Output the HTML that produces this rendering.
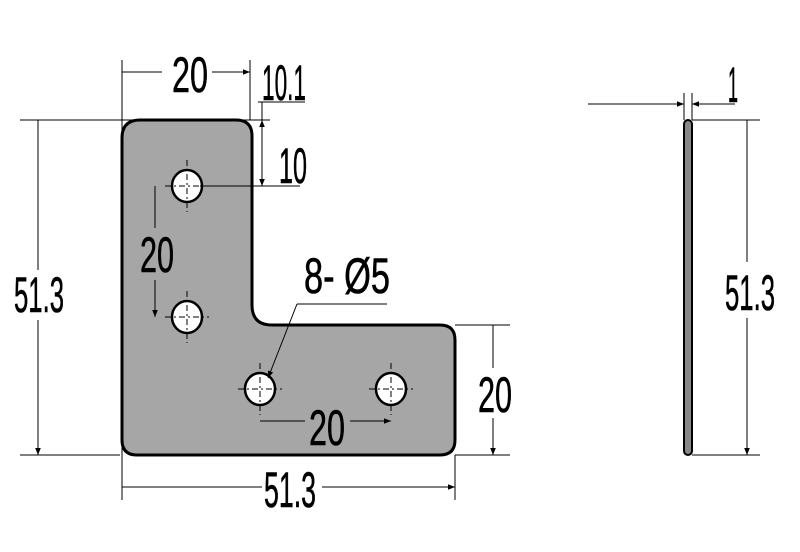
<!DOCTYPE html>
<html><head><style>body{margin:0;background:#fff}svg{display:block}</style></head><body>
<svg width="800" height="552" viewBox="0 0 800 552" xmlns="http://www.w3.org/2000/svg" font-family="Liberation Sans, sans-serif">
<defs>
<marker id="a" viewBox="0 0 10 10" refX="10" refY="5" markerWidth="16" markerHeight="7" markerUnits="userSpaceOnUse" orient="auto-start-reverse"><path d="M0,1 L10,5 L0,9z" fill="#000"/></marker>
</defs>
<path d="M140,120 H236 Q252,120 252,136 V305 Q252,325 272,325 H440 Q455,325 455,340 V440 Q455,455 440,455 H137 Q122,455 122,440 V138 Q122,120 140,120 Z" fill="#a6a6a6" stroke="#000" stroke-width="3"/>
<g fill="#fff" stroke="#000" stroke-width="2.5">
<ellipse cx="187" cy="186" rx="15" ry="16"/><ellipse cx="187" cy="317" rx="15" ry="16"/>
<ellipse cx="260" cy="389" rx="15" ry="16"/><ellipse cx="391" cy="389" rx="15" ry="16"/>
</g>
<g stroke="#000" stroke-width="1" stroke-dasharray="6,3,2,3">
<path d="M165,186H209M187,160V212M165,317H209M187,291V343M238,389H282M260,363V415M369,389H413M391,363V415"/>
</g>
<g stroke="#000" stroke-width="1" fill="none">
<path d="M20,120H270M20,455H120M122,60V500M250,60V120M455,325H510M455,455H510M455,455V500M200,186H300"/>
<path d="M162,72H122M212,72H250" marker-end="url(#a)"/>
<path d="M38,270V120M38,320V455" marker-end="url(#a)"/>
<line x1="262" y1="153" x2="262" y2="120" marker-end="url(#a)"/>
<line x1="262" y1="153" x2="262" y2="186" marker-end="url(#a)"/>
<path d="M262,102V120M258,102H305"/>
<path d="M155,228V186M155,280V317" marker-end="url(#a)"/>
<path d="M493,368V325M493,418V455" marker-end="url(#a)"/>
<path d="M305,421H260M350,421H391" marker-end="url(#a)"/>
<path d="M262,487H122M322,487H455" marker-end="url(#a)"/>
<path d="M297,304H387"/>
<line x1="297" y1="304" x2="268" y2="378" marker-end="url(#a)"/>
<path d="M684,93V120M692,93V120M692,120H760M692,455H760"/>
<line x1="588" y1="104" x2="684" y2="104" marker-end="url(#a)"/>
<line x1="735" y1="104" x2="692" y2="104" marker-end="url(#a)"/>
<path d="M747,262V120M747,318V455" marker-end="url(#a)"/>
</g>
<rect x="684" y="120" width="8" height="335" rx="4" fill="#888" stroke="#000" stroke-width="2"/>
<g font-size="50" fill="#000" stroke="#000" stroke-width="0.6">
<text x="172" y="92" textLength="36" lengthAdjust="spacingAndGlyphs">20</text>
<text x="262" y="100" textLength="44" lengthAdjust="spacingAndGlyphs">10.1</text>
<text x="279" y="183" textLength="28" lengthAdjust="spacingAndGlyphs">10</text>
<text x="140" y="272" textLength="34" lengthAdjust="spacingAndGlyphs">20</text>
<text x="14" y="312" textLength="50" lengthAdjust="spacingAndGlyphs">51.3</text>
<text x="304" y="293" textLength="86" lengthAdjust="spacingAndGlyphs">8- Ø5</text>
<text x="478" y="412" textLength="34" lengthAdjust="spacingAndGlyphs">20</text>
<text x="309" y="445" textLength="36" lengthAdjust="spacingAndGlyphs">20</text>
<text x="264" y="507" textLength="52" lengthAdjust="spacingAndGlyphs">51.3</text>
<text x="728" y="102" textLength="10" lengthAdjust="spacingAndGlyphs">1</text>
<text x="725" y="310" textLength="50" lengthAdjust="spacingAndGlyphs">51.3</text>
</g>
</svg>
</body></html>
